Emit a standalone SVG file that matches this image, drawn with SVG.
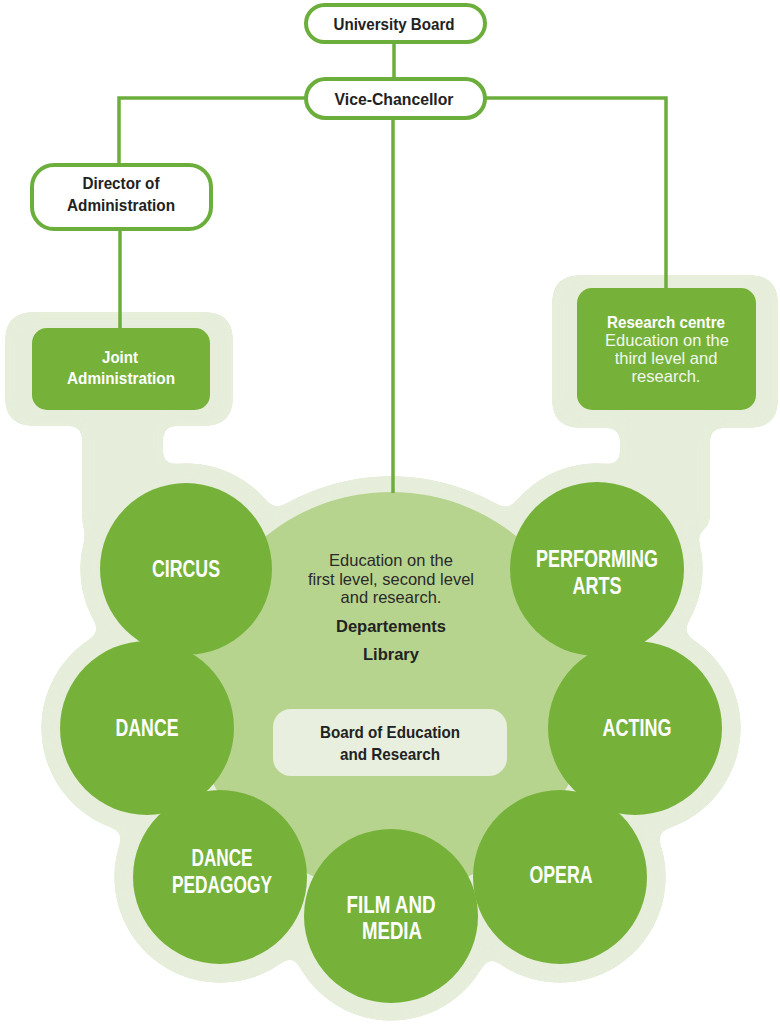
<svg xmlns="http://www.w3.org/2000/svg" width="780" height="1027" viewBox="0 0 780 1027">
  <defs>
    <!-- blur + alpha threshold: merges the backdrop shapes with smooth fillets -->
    <filter id="goo" filterUnits="userSpaceOnUse" x="0" y="0" width="780" height="1027" color-interpolation-filters="sRGB">
      <feGaussianBlur in="SourceGraphic" stdDeviation="7" result="b"/>
      <feComponentTransfer in="b">
        <feFuncA type="linear" slope="30" intercept="-14.5"/>
      </feComponentTransfer>
    </filter>
    <style>
      .line { stroke: #6cae3b; stroke-width: 3.5; fill: none; }
      .pill { fill: #ffffff; stroke: #6cae3b; stroke-width: 4; }
      .box { fill: #76b23a; }
      .unit { fill: #76b23a; }
      .back { fill: #e6eedb; }
      .lbl { font-family: "Liberation Sans", Arial, sans-serif; font-weight: bold; text-anchor: middle; }
      .dark { fill: #222222; font-size: 17px; }
      .white { fill: #ffffff; }
      .big { font-size: 23px; }
      .txt { font-family: "Liberation Sans", Arial, sans-serif; text-anchor: middle; font-size: 16.5px; }
    </style>
  </defs>

  <!-- pale backdrop: side panels, stems and the ring round the units -->
  <g id="backdrop" class="back" filter="url(#goo)">
    <rect x="5" y="312" width="228" height="114" rx="22"/>
    <rect x="552" y="275" width="226" height="153" rx="22"/>
    <rect x="82" y="400" width="81" height="130"/>
    <rect x="620" y="400" width="90" height="130"/>
    <circle cx="391" cy="692" r="216"/>
    <circle cx="186" cy="569" r="106"/>
    <circle cx="147" cy="728" r="106"/>
    <circle cx="220" cy="877" r="106"/>
    <circle cx="391" cy="916" r="105"/>
    <circle cx="560" cy="877" r="106"/>
    <circle cx="635" cy="728" r="106"/>
    <circle cx="597" cy="569" r="106"/>
  </g>

  <!-- central disc -->
  <circle id="core" cx="391" cy="692" r="200" fill="#b7d48f"/>

  <!-- connectors -->
  <g id="connectors" class="line">
    <line x1="394" y1="42" x2="394" y2="80"/>
    <polyline points="305,98 119,98 119,165"/>
    <line x1="120" y1="229" x2="120" y2="329"/>
    <polyline points="485,98 666,98 666,289"/>
    <line x1="393" y1="118" x2="393" y2="493"/>
  </g>

  <g id="university-board">
    <rect class="pill" x="306" y="5" width="179" height="37" rx="18.5"/>
    <text class="lbl dark" x="394" y="30" textLength="121" lengthAdjust="spacingAndGlyphs">University Board</text>
  </g>

  <g id="vice-chancellor">
    <rect class="pill" x="306" y="79" width="179" height="39" rx="19.5"/>
    <text class="lbl dark" x="394" y="105" textLength="119" lengthAdjust="spacingAndGlyphs">Vice-Chancellor</text>
  </g>

  <g id="director-of-administration">
    <rect class="pill" x="32" y="165" width="179" height="64" rx="22"/>
    <text class="lbl dark" x="121" y="189" textLength="77" lengthAdjust="spacingAndGlyphs">Director of</text>
    <text class="lbl dark" x="121" y="211" textLength="108" lengthAdjust="spacingAndGlyphs">Administration</text>
  </g>

  <g id="joint-administration">
    <rect class="box" x="32" y="328" width="178" height="82" rx="15"/>
    <text class="lbl white" font-size="17" x="120" y="363" textLength="36" lengthAdjust="spacingAndGlyphs">Joint</text>
    <text class="lbl white" font-size="17" x="121" y="384" textLength="108" lengthAdjust="spacingAndGlyphs">Administration</text>
  </g>

  <g id="research-centre">
    <rect class="box" x="577" y="288" width="179" height="122" rx="15"/>
    <text class="lbl white" font-size="16.5" x="666" y="328" textLength="118" lengthAdjust="spacingAndGlyphs">Research centre</text>
    <text class="txt" fill="#f2f7ec" x="667" y="346">Education on the</text>
    <text class="txt" fill="#f2f7ec" x="666" y="364">third level and</text>
    <text class="txt" fill="#f2f7ec" x="666" y="382">research.</text>
  </g>

  <g id="core-text">
    <text class="txt" fill="#2a2a2a" x="391" y="566">Education on the</text>
    <text class="txt" fill="#2a2a2a" x="391" y="585">first level, second level</text>
    <text class="txt" fill="#2a2a2a" x="391" y="603">and research.</text>
    <text class="txt" fill="#222222" font-weight="bold" x="391" y="632">Departements</text>
    <text class="txt" fill="#222222" font-weight="bold" x="391" y="660">Library</text>
  </g>

  <g id="board-of-education">
    <rect x="273" y="709" width="234" height="67" rx="18" fill="#e8efde"/>
    <text class="lbl dark" x="390" y="738" textLength="140" lengthAdjust="spacingAndGlyphs">Board of Education</text>
    <text class="lbl dark" x="390" y="760" textLength="100" lengthAdjust="spacingAndGlyphs">and Research</text>
  </g>

  <g id="circus">
    <circle class="unit" cx="186" cy="569" r="86"/>
    <text class="lbl white big" x="186" y="577" textLength="68" lengthAdjust="spacingAndGlyphs">CIRCUS</text>
  </g>

  <g id="dance">
    <circle class="unit" cx="147" cy="728" r="87"/>
    <text class="lbl white big" x="147" y="736" textLength="63" lengthAdjust="spacingAndGlyphs">DANCE</text>
  </g>

  <g id="dance-pedagogy">
    <circle class="unit" cx="220" cy="877" r="87"/>
    <text class="lbl white big" x="222" y="866" textLength="61" lengthAdjust="spacingAndGlyphs">DANCE</text>
    <text class="lbl white big" x="222" y="893" textLength="100" lengthAdjust="spacingAndGlyphs">PEDAGOGY</text>
  </g>

  <g id="film-and-media">
    <circle class="unit" cx="391" cy="916" r="87"/>
    <text class="lbl white big" x="391" y="913" textLength="89" lengthAdjust="spacingAndGlyphs">FILM AND</text>
    <text class="lbl white big" x="392" y="939" textLength="60" lengthAdjust="spacingAndGlyphs">MEDIA</text>
  </g>

  <g id="opera">
    <circle class="unit" cx="560" cy="877" r="87"/>
    <text class="lbl white big" x="561" y="883" textLength="63" lengthAdjust="spacingAndGlyphs">OPERA</text>
  </g>

  <g id="acting">
    <circle class="unit" cx="635" cy="728" r="87"/>
    <text class="lbl white big" x="637" y="736" textLength="69" lengthAdjust="spacingAndGlyphs">ACTING</text>
  </g>

  <g id="performing-arts">
    <circle class="unit" cx="597" cy="569" r="87"/>
    <text class="lbl white big" x="597" y="567" textLength="122" lengthAdjust="spacingAndGlyphs">PERFORMING</text>
    <text class="lbl white big" x="597" y="594" textLength="49" lengthAdjust="spacingAndGlyphs">ARTS</text>
  </g>
</svg>
